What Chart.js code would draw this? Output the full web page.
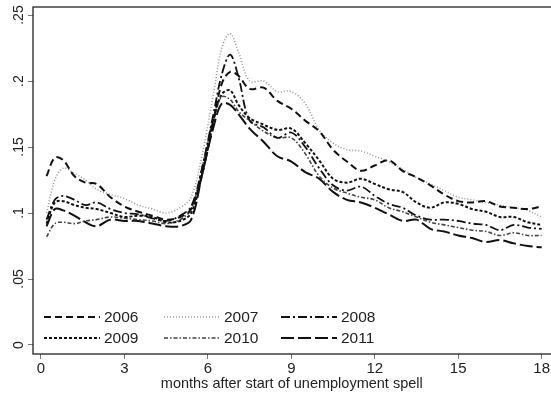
<!DOCTYPE html>
<html>
<head>
<meta charset="utf-8">
<script src="https://cdn.jsdelivr.net/npm/chart.js@4"></script>
<style>
  body { margin: 0; background: #fff; }
  canvas { display: block; }
</style>
</head>
<body>
<canvas id="myChart" width="551" height="398"></canvas>
<script>
// months after start of spell (common grid for all years)
const months = [0.2, 0.5, 0.8, 1.2, 1.6, 2, 2.5, 3, 3.5, 4, 4.5, 5,
    5.4, 5.8, 6.2, 6.5, 6.8, 7.1, 7.5,
    8, 8.5, 9, 9.5, 10, 10.5, 11, 11.5, 12, 12.5, 13, 13.5, 14, 14.5, 15, 15.5, 16, 16.5, 17, 17.5, 18]

const y2006 = [0.128, 0.142, 0.140, 0.128, 0.123, 0.122, 0.112, 0.105, 0.101, 0.098, 0.095, 0.097,
    0.103, 0.130, 0.170, 0.198, 0.207, 0.204, 0.194,
    0.195, 0.185, 0.179, 0.170, 0.162, 0.148, 0.139, 0.132, 0.136, 0.140, 0.132, 0.127, 0.121, 0.114, 0.109, 0.108, 0.109, 0.105, 0.104, 0.103, 0.105]
const y2007 = [0.100, 0.125, 0.134, 0.130, 0.125, 0.118, 0.114, 0.111, 0.106, 0.103, 0.100, 0.104,
    0.112, 0.145, 0.190, 0.225, 0.236, 0.222, 0.200,
    0.200, 0.192, 0.192, 0.183, 0.163, 0.153, 0.148, 0.147, 0.143, 0.139, 0.133, 0.127, 0.122, 0.117, 0.112, 0.110, 0.108, 0.106, 0.104, 0.102, 0.097]
const y2008 = [0.095, 0.110, 0.113, 0.110, 0.106, 0.108, 0.103, 0.100, 0.099, 0.096, 0.094, 0.098,
    0.105, 0.135, 0.175, 0.205, 0.220, 0.203, 0.170,
    0.165, 0.157, 0.161, 0.150, 0.134, 0.121, 0.117, 0.120, 0.113, 0.107, 0.104, 0.098, 0.095, 0.095, 0.094, 0.092, 0.091, 0.087, 0.091, 0.089, 0.088]
const y2009 = [0.092, 0.108, 0.109, 0.106, 0.104, 0.103, 0.100, 0.097, 0.098, 0.097, 0.093, 0.094,
    0.100, 0.130, 0.170, 0.190, 0.193, 0.182, 0.172,
    0.167, 0.163, 0.164, 0.153, 0.140, 0.126, 0.123, 0.126, 0.122, 0.118, 0.116, 0.108, 0.104, 0.108, 0.107, 0.103, 0.101, 0.097, 0.097, 0.093, 0.091]
const y2010 = [0.082, 0.092, 0.093, 0.092, 0.094, 0.095, 0.097, 0.096, 0.095, 0.094, 0.092, 0.095,
    0.103, 0.135, 0.172, 0.188, 0.186, 0.177, 0.170,
    0.162, 0.157, 0.157, 0.145, 0.128, 0.119, 0.115, 0.112, 0.110, 0.104, 0.101, 0.097, 0.093, 0.091, 0.089, 0.087, 0.086, 0.083, 0.085, 0.083, 0.083]
const y2011 = [0.090, 0.103, 0.102, 0.098, 0.093, 0.090, 0.095, 0.094, 0.094, 0.092, 0.090, 0.090,
    0.095, 0.130, 0.165, 0.183, 0.182, 0.175, 0.164,
    0.154, 0.143, 0.139, 0.131, 0.126, 0.116, 0.110, 0.108, 0.104, 0.099, 0.094, 0.095, 0.088, 0.086, 0.083, 0.081, 0.078, 0.0795, 0.077, 0.075, 0.074]

const years = ['2006', '2007', '2008', '2009', '2010', '2011']
const xTicks = [0, 3, 6, 9, 12, 15, 18]
const yTicks = [0, 0.05, 0.1, 0.15, 0.2, 0.25]
const yTickLabels = ['0', '.05', '.1', '.15', '.2', '.25']
const xTitle = 'months after start of unemployment spell'

const FONT = "'Liberation Sans', Arial, sans-serif"

const styles = {
    '2006': { color: '#111', dash: [7, 4], width: 2 },
    '2007': { color: '#999', dash: [1, 2], width: 1.6 },
    '2008': { color: '#111', dash: [9, 3, 2, 3], width: 1.8 },
    '2009': { color: '#111', dash: [3, 2], width: 2 },
    '2010': { color: '#444', dash: [4, 2, 1.5, 2], width: 1.6 },
    '2011': { color: '#111', dash: [13, 4], width: 2 }
}

function series(vals) {
    return months.map((m, i) => ({ x: m, y: vals[i] }))
}

const allValues = [y2006, y2007, y2008, y2009, y2010, y2011]
const datasets = years.map((yr, i) => ({
    label: yr,
    data: series(allValues[i]),
    borderColor: styles[yr].color,
    borderDash: styles[yr].dash,
    borderWidth: styles[yr].width,
    pointRadius: 0,
    fill: false,
    tension: 0.35
}))

// frame, rotated y labels and the in-plot legend
const framePlugin = {
    id: 'frame',
    afterDraw(chart) {
        const ctx = chart.ctx
        const a = chart.chartArea
        ctx.save()
        ctx.strokeStyle = '#222'
        ctx.lineWidth = 1.3
        ctx.strokeRect(a.left, a.top, a.right - a.left + 2, a.bottom - a.top)

        // y tick labels, rotated like the original
        ctx.fillStyle = '#222'
        ctx.font = '14px ' + FONT
        ctx.textAlign = 'center'
        ctx.textBaseline = 'middle'
        const ys = chart.scales.y
        yTicks.forEach((v, i) => {
            const py = ys.getPixelForValue(v)
            ctx.save()
            ctx.translate(19, py)
            ctx.rotate(-Math.PI / 2)
            ctx.fillText(yTickLabels[i], 0, 0)
            ctx.restore()
        })

        // legend: 3 columns, 2 rows
        ctx.font = '15.5px ' + FONT
        const colX = [44, 164, 281]
        const rowY = [317, 338]
        chart.data.datasets.forEach((ds, i) => {
            const x = colX[i % 3]
            const y = rowY[Math.floor(i / 3)]
            ctx.beginPath()
            ctx.setLineDash(ds.borderDash)
            ctx.strokeStyle = ds.borderColor
            ctx.lineWidth = ds.borderWidth
            ctx.moveTo(x, y)
            ctx.lineTo(x + 56, y)
            ctx.stroke()
            ctx.setLineDash([])
            ctx.fillStyle = '#222'
            ctx.textAlign = 'left'
            ctx.fillText(ds.label, x + 60, y + 1)
        })
        ctx.restore()
    }
}

const ctx = document.getElementById('myChart').getContext('2d')
const myChart = new Chart(ctx, {
    type: 'line',
    data: { datasets: datasets },
    options: {
        responsive: false,
        animation: false,
        layout: { padding: { top: 7, left: 0, right: 0, bottom: 0 } },
        plugins: {
            legend: { display: false },
            tooltip: { enabled: false }
        },
        scales: {
            x: {
                type: 'linear',
                min: -0.287,
                max: 18.32,
                afterBuildTicks: (scale) => { scale.ticks = xTicks.map(v => ({ value: v })) },
                afterFit: (scale) => { scale.height = 44 },
                grid: { drawOnChartArea: false, drawTicks: true, tickLength: 5, tickColor: '#777' },
                border: { display: false },
                ticks: {
                    color: '#222',
                    font: { family: FONT, size: 15 },
                    padding: 1,
                    maxRotation: 0
                },
                title: {
                    display: true,
                    text: xTitle,
                    color: '#222',
                    font: { family: FONT, size: 14.5 },
                    padding: { top: 0, bottom: 5 }
                }
            },
            y: {
                type: 'linear',
                min: -0.00682,
                max: 0.2561,
                afterBuildTicks: (scale) => { scale.ticks = yTicks.map(v => ({ value: v })) },
                afterFit: (scale) => { scale.width = 33 },
                grid: { drawOnChartArea: false, drawTicks: true, tickLength: 5, tickColor: '#777' },
                border: { display: false },
                ticks: { display: false }
            }
        }
    },
    plugins: [framePlugin]
})
</script>
</body>
</html>
